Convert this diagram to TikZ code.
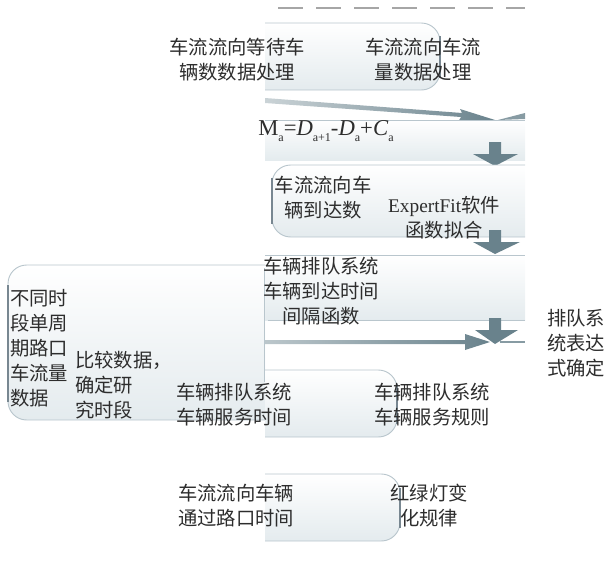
\documentclass[tikz,border=0pt]{standalone}
\usepackage{fontspec}
\setmainfont{Liberation Serif}
\newfontfamily\cjk{Noto Sans CJK SC}
\definecolor{boxc}{RGB}{228,235,238}
\definecolor{edgec}{RGB}{185,198,205}
\definecolor{darkedge}{RGB}{120,135,145}
\definecolor{arr}{RGB}{105,130,140}
\definecolor{txtc}{RGB}{45,45,45}
\newcommand{\subx}[1]{\raisebox{-5pt}{\fontsize{9}{9}\selectfont #1}}
\begin{document}
\begin{tikzpicture}[x=0.75pt,y=-0.75pt,
  shadebox/.style={top color=white, bottom color=boxc, draw=none},
  edgeline/.style={draw=edgec, line width=0.7pt},
  darkline/.style={draw=darkedge, line width=1.1pt},
  txt/.style={font=\cjk\fontsize{14.5}{18.75}\selectfont, text=txtc, align=center, inner sep=0pt},
  txtl/.style={txt, align=left, anchor=west}]
\useasboundingbox (0,0) rectangle (607,565);

% top dashes
\draw[gray!70, line width=0.9pt, dash pattern=on 18.75pt off 9.75pt] (278,8) -- (525,8);

% box 1
\shade[shadebox] (265,23) [rounded corners=14pt] -- (440,23) -- (440,90) [sharp corners] -- (265,90) -- cycle;
\draw[edgeline] (265,23) [rounded corners=14pt] -- (440,23) -- (440,90) [sharp corners] -- (265,90);
\draw[darkline] (440,36) -- (440,78);

% slanted arrow
\shade[left color=arr!35, right color=arr] (265,98) -- (462,113) -- (460,109) -- (495,120) -- (458,122) -- (461,117) -- (265,103) -- cycle;
\fill[arr!80] (498,120) -- (525,113) -- (525,119) -- cycle;

% formula band
\shade[shadebox] (265,120) rectangle (525,160);
\draw[edgeline] (265,120) -- (525,120);

% down arrow A
\fill[arr] (489,142) -- (501,142) -- (501,154) -- (518,154) -- (495,166) -- (473,154) -- (489,154) -- cycle;

% box 2
\shade[shadebox] (525,165) [rounded corners=14pt] -- (272,165) -- (272,237) [sharp corners] -- (525,237) -- cycle;
\draw[edgeline] (525,165) [rounded corners=14pt] -- (272,165) -- (272,237) [sharp corners] -- (525,237);
\draw[darkline] (272,178) -- (272,224);

% down arrow B
\fill[arr] (489,230) -- (501,230) -- (501,242) -- (520,242) -- (495,254) -- (473,242) -- (489,242) -- cycle;

% band 3
\shade[shadebox] (265,255) rectangle (525,320);
\draw[edgeline] (265,255) -- (525,255);
\draw[edgeline] (268,320) -- (525,320);

% left big box
\shade[shadebox] (265,265) [rounded corners=14pt] -- (8,265) -- (8,420) [sharp corners] -- (265,420) -- cycle;
\draw[edgeline] (265,265) [rounded corners=14pt] -- (8,265) -- (8,420) [sharp corners] -- (265,420);
\draw[darkline] (8,285) -- (8,402);
\draw[edgeline] (264,268) -- (264,382);

% down arrow C + horizontal arrow
\shade[left color=arr!45, right color=arr] (265,340) -- (465,340) -- (465,334) -- (490,342) -- (465,350) -- (465,344) -- (265,344) -- cycle;
\draw[arr!80, line width=1.5pt] (500,342) -- (525,342);
\fill[arr] (489,318) -- (501,318) -- (501,330) -- (518,330) -- (495,344) -- (475,330) -- (489,330) -- cycle;

% service box
\shade[shadebox] (265,370) [rounded corners=14pt] -- (397,370) -- (397,437) [sharp corners] -- (265,437) -- cycle;
\draw[edgeline] (265,370) [rounded corners=14pt] -- (397,370) -- (397,437) [sharp corners] -- (265,437);
\draw[darkline] (397,384) -- (397,424);

% traffic light box
\shade[shadebox] (265,474) [rounded corners=14pt] -- (400,474) -- (400,541) [sharp corners] -- (265,541) -- cycle;
\draw[edgeline] (265,474) [rounded corners=14pt] -- (400,474) -- (400,541) [sharp corners] -- (265,541);
\draw[darkline] (400,488) -- (400,528);

% texts
\node[txt] (t1) at (237,60) {车流流向等待车\\辆数数据处理};
\node[txt] (t2) at (423,60) {车流流向车流\\量数据处理};
\node[anchor=base west, inner sep=0pt, text=txtc] (f) at (258,135) {\fontsize{17}{17}\selectfont M\subx{a}=\textit{D}\subx{a+1}-\textit{D}\subx{a}+\textit{C}\subx{a}};
\node[txt] (t3) at (323,198) {车流流向车\\辆到达数};
\node[txt] (t4) at (444,218) {{\rmfamily ExpertFit}软件\\函数拟合};
\node[txt] (t5) at (321,291) {车辆排队系统\\车辆到达时间\\间隔函数};
\node[txtl] (t6) at (547,343) {排队系\\统表达\\式确定};
\node[txtl] (t7) at (10,348) {不同时\\段单周\\期路口\\车流量\\数据};
\node[txtl] (t8) at (75,385) {比较数据，\\确定研\\究时段};
\node[txt] (t9) at (234,405) {车辆排队系统\\车辆服务时间};
\node[txt] (t10) at (432,405) {车辆排队系统\\车辆服务规则};
\node[txt] (t11) at (236,506) {车流流向车辆\\通过路口时间};
\node[txt] (t12) at (429,506) {红绿灯变\\化规律};
\end{tikzpicture}
\end{document}
